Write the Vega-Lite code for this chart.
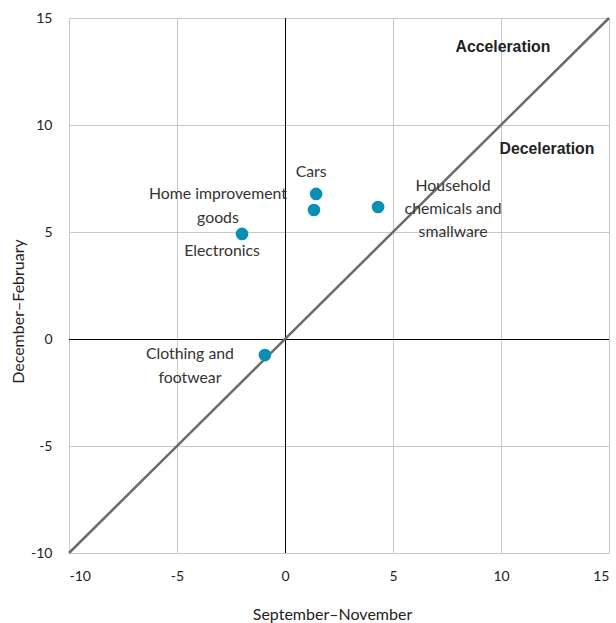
{
  "$schema": "https://vega.github.io/schema/vega-lite/v6.json",
  "width": 540,
  "height": 535,
  "autosize": {"type": "none"},
  "padding": {"left": 69, "top": 18, "right": 7, "bottom": 70},
  "background": "white",
  "config": {
    "view": {"stroke": null},
    "font": "Lato",
    "axis": {
      "grid": true,
      "gridColor": "#c8c8c8",
      "gridWidth": 1,
      "domain": false,
      "ticks": false,
      "labelFont": "Lato",
      "labelFontSize": 14,
      "labelColor": "#222222",
      "labelExpr": "toString(datum.value)",
      "titleFont": "Lato",
      "titleFontSize": 16,
      "titleFontWeight": "normal",
      "titleColor": "#222222",
      "titleBaseline": "middle"
    }
  },
  "datasets": {
    "sectors": [
      {"sector": "Cars", "sep_nov": 1.44, "dec_feb": 6.78},
      {"sector": "Home improvement goods", "sep_nov": 1.34, "dec_feb": 6.03},
      {"sector": "Household chemicals and smallware", "sep_nov": 4.31, "dec_feb": 6.17},
      {"sector": "Electronics", "sep_nov": -1.99, "dec_feb": 4.91},
      {"sector": "Clothing and footwear", "sep_nov": -0.93, "dec_feb": -0.75}
    ],
    "parity": [
      {"sep_nov": -10, "dec_feb": -10},
      {"sep_nov": 15, "dec_feb": 15}
    ],
    "zones": [
      {"zone": "Acceleration", "sep_nov": 10.09, "dec_feb": 13.65},
      {"zone": "Deceleration", "sep_nov": 12.13, "dec_feb": 8.9}
    ]
  },
  "encoding": {
    "x": {
      "field": "sep_nov",
      "type": "quantitative",
      "scale": {"domain": [-10, 15], "nice": false, "zero": false},
      "axis": {"values": [-10, -5, 0, 5, 10, 15], "title": "September–November", "labelPadding": 16, "titleX": 263, "titleY": 61, "orient": "bottom"}
    },
    "y": {
      "field": "dec_feb",
      "type": "quantitative",
      "scale": {"domain": [-10, 15], "nice": false, "zero": false},
      "axis": {"values": [-10, -5, 0, 5, 10, 15], "title": "December–February", "labelPadding": 17, "titleX": -51, "titleY": 293, "orient": "left"}
    }
  },
  "layer": [
    {
      "data": {"values": [{"v": 0}]},
      "mark": {"type": "rule", "color": "#000000", "strokeWidth": 1, "xOffset": 0.5},
      "encoding": {"x": {"field": "v", "type": "quantitative"}, "y": null}
    },
    {
      "data": {"values": [{"v": 0}]},
      "mark": {"type": "rule", "color": "#000000", "strokeWidth": 1, "yOffset": 0.5},
      "encoding": {"y": {"field": "v", "type": "quantitative"}, "x": null}
    },
    {
      "data": {"name": "parity"},
      "mark": {"type": "line", "color": "#6b6b6b", "strokeWidth": 2.5},
      "encoding": {}
    },
    {
      "data": {"name": "sectors"},
      "mark": {"type": "circle", "size": 160, "color": "#0a8fb5", "opacity": 1},
      "encoding": {}
    },
    {
      "data": {"name": "sectors"},
      "transform": [{"filter": "datum.sector === 'Cars'"}],
      "mark": {"type": "text", "fontSize": 15.8, "color": "#333333", "align": "center", "baseline": "middle", "dx": -5, "dy": -22},
      "encoding": {"text": {"value": "Cars"}}
    },
    {
      "data": {"name": "sectors"},
      "transform": [{"filter": "datum.sector === 'Home improvement goods'"}],
      "mark": {"type": "text", "fontSize": 15.8, "color": "#333333", "align": "center", "baseline": "middle", "lineHeight": 24, "dx": -96, "dy": -16},
      "encoding": {"text": {"value": ["Home improvement", "goods"]}}
    },
    {
      "data": {"name": "sectors"},
      "transform": [{"filter": "datum.sector === 'Household chemicals and smallware'"}],
      "mark": {"type": "text", "fontSize": 15.8, "color": "#333333", "align": "center", "baseline": "middle", "lineHeight": 23, "dx": 75, "dy": -21},
      "encoding": {"text": {"value": ["Household", "chemicals and", "smallware"]}}
    },
    {
      "data": {"name": "sectors"},
      "transform": [{"filter": "datum.sector === 'Electronics'"}],
      "mark": {"type": "text", "fontSize": 15.8, "color": "#333333", "align": "center", "baseline": "middle", "dx": -20, "dy": 17},
      "encoding": {"text": {"value": "Electronics"}}
    },
    {
      "data": {"name": "sectors"},
      "transform": [{"filter": "datum.sector === 'Clothing and footwear'"}],
      "mark": {"type": "text", "fontSize": 15.8, "color": "#333333", "align": "center", "baseline": "middle", "lineHeight": 24, "dx": -75, "dy": -1},
      "encoding": {"text": {"value": ["Clothing and", "footwear"]}}
    },
    {
      "data": {"name": "zones"},
      "mark": {"type": "text", "font": "Liberation Sans", "fontSize": 15.8, "fontWeight": "bold", "color": "#222222", "align": "center", "baseline": "middle"},
      "encoding": {"text": {"field": "zone"}}
    }
  ]
}
